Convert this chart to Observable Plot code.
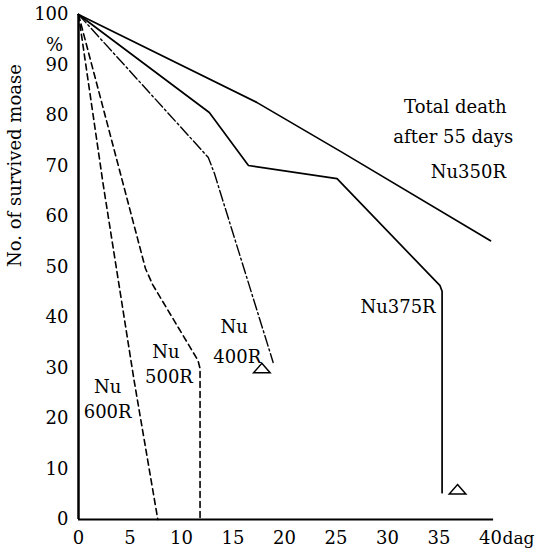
<!DOCTYPE html>
<html>
<head>
<meta charset="utf-8">
<script src="https://cdn.jsdelivr.net/npm/d3@7"></script>
<script src="https://cdn.jsdelivr.net/npm/@observablehq/plot@0.6"></script>
<style>
  html, body { margin: 0; padding: 0; background: #fff; }
  #chart { width: 536px; height: 551px; }
</style>
</head>
<body>
<div id="chart"></div>
<script>
// Survival curves (days, % survived)
const days350 = [0, 17.3, 25.6, 40];
const surv350 = [100, 82.6, 72.7, 55.2];

const days375 = [0, 12.7, 16.5, 25.1, 35.1, 35.3, 35.3];
const surv375 = [100, 80.6, 70.1, 67.5, 46.3, 45.2, 5.3];

const days400 = [0, 12.6, 13.2, 18.9];
const surv400 = [100, 71.7, 68.5, 31.1];

const days500 = [0, 6.5, 7.2, 11.6, 11.8, 11.8];
const surv500 = [100, 49.7, 46.5, 31.5, 29.9, 0];

const days600 = [0, 2.4, 5.4, 7.7];
const surv600 = [100, 66.3, 27.5, 0];

// Triangle markers
const markDays = [17.8, 36.8];
const markSurv = [29.9, 5.9];

// Tick labels
const xTicks = [0, 5, 10, 15, 20, 25, 30, 35, 40];
const yTicks = [0, 10, 20, 30, 40, 50, 60, 70, 80, 90, 100];

// Annotations
const labelText = ["Nu", "600R", "Nu", "500R", "Nu", "400R", "Nu375R", "Total death", "after 55 days", "Nu350R"];
const labelDay  = [2.83, 2.83, 8.49, 8.78, 15.12, 15.41, 31.02, 36.59, 36.39, 37.85];
const labelSurv = [26.1, 21.2, 33.1, 28.1, 38.0, 32.1, 42.0, 81.6, 75.6, 68.7];

const yLabel = "No. of survived moase";
const xUnit = "dag";
const yUnit = "%";

const toRows = (xs, ys) => xs.map((d, i) => ({day: d, surv: ys[i]}));
const labels = labelText.map((t, i) => ({text: t, day: labelDay[i], surv: labelSurv[i]}));

const flatTriangle = {
  draw(ctx, size) {
    const w = Math.sqrt(size) * 0.85;
    ctx.moveTo(0, -w * 0.62);
    ctx.lineTo(w, w * 0.52);
    ctx.lineTo(-w, w * 0.52);
    ctx.closePath();
  }
};

const FS = 18;
const chart = Plot.plot({
  width: 536,
  height: 551,
  marginLeft: 78,
  marginRight: 46,
  marginTop: 14,
  marginBottom: 32,
  x: {domain: [0, 40]},
  y: {domain: [0, 100]},
  style: {fontFamily: "'DejaVu Serif', serif", fontSize: FS + "px", background: "white", color: "black"},
  marks: [
    Plot.axisX({ticks: xTicks, tickSize: 0, tickPadding: 12, label: null, fontSize: FS, tickFormat: d => String(d)}),
    Plot.axisY({ticks: yTicks, tickSize: 0, tickPadding: 10, label: null, fontSize: FS, tickFormat: d => String(d)}),
    Plot.ruleY([0], {x1: 0, x2: 40.3, stroke: "black", strokeWidth: 2}),
    Plot.ruleX([0], {y1: 0, y2: 100, stroke: "black", strokeWidth: 2.5}),
    Plot.line(toRows(days350, surv350), {x: "day", y: "surv", stroke: "black", strokeWidth: 1.7}),
    Plot.line(toRows(days375, surv375), {x: "day", y: "surv", stroke: "black", strokeWidth: 1.7}),
    Plot.line(toRows(days400, surv400), {x: "day", y: "surv", stroke: "black", strokeWidth: 1.4, strokeDasharray: "11,3,2,3"}),
    Plot.line(toRows(days500, surv500), {x: "day", y: "surv", stroke: "black", strokeWidth: 1.6, strokeDasharray: "6,4"}),
    Plot.line(toRows(days600, surv600), {x: "day", y: "surv", stroke: "black", strokeWidth: 1.6, strokeDasharray: "6,4"}),
    Plot.dot(toRows(markDays, markSurv), {x: "day", y: "surv", symbol: flatTriangle, r: 5.5, fill: "white", stroke: "black", strokeWidth: 1.5}),
    Plot.text(labels, {x: "day", y: "surv", text: "text", fontSize: FS, fill: "black"}),
    Plot.text([yUnit], {x: 0, y: 93.9, dx: -24, fontSize: FS, fill: "black"}),
    Plot.text([xUnit], {x: 40, y: 0, dx: 12, dy: 19, textAnchor: "start", fontSize: 17, fill: "black"}),
    Plot.text([yLabel], {frameAnchor: "left", dx: -63, rotate: -90, fontSize: FS, fill: "black"})
  ]
});
document.getElementById("chart").appendChild(chart);
</script>
</body>
</html>
